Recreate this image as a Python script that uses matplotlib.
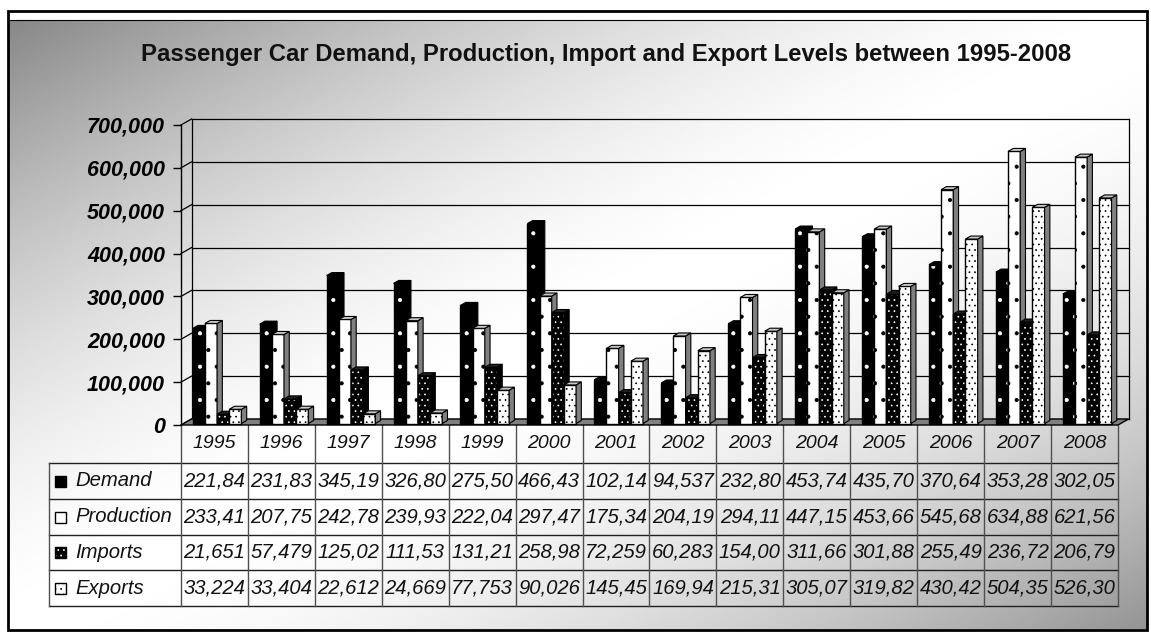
import numpy as np
import matplotlib
matplotlib.use('Agg')
import matplotlib.pyplot as plt
from matplotlib.patches import Polygon, Rectangle
from matplotlib.transforms import IdentityTransform, ScaledTranslation
from matplotlib.ticker import FuncFormatter

# data (table values are truncated to 6 characters there)
years = ['1995', '1996', '1997', '1998', '1999', '2000', '2001',
         '2002', '2003', '2004', '2005', '2006', '2007', '2008']
series_names = ['Demand', 'Production', 'Imports', 'Exports']
demand = [221840, 231830, 345190, 326800, 275500, 466430, 102140,
          94537, 232800, 453740, 435700, 370640, 353280, 302050]
production = [233410, 207750, 242780, 239930, 222040, 297470, 175340,
              204190, 294110, 447150, 453660, 545680, 634880, 621560]
imports = [21651, 57479, 125020, 111530, 131210, 258980, 72259,
           60283, 154000, 311660, 301880, 255490, 236720, 206790]
exports = [33224, 33404, 22612, 24669, 77753, 90026, 145450,
           169940, 215310, 305070, 319820, 430420, 504350, 526300]
y_ticks = [0, 100000, 200000, 300000, 400000, 500000, 600000, 700000]
title = 'Passenger Car Demand, Production, Import and Export Levels between 1995-2008'

# look of each series: face, dot colour, hatch, side face, top face
styles = [
    ('black', 'white', '.', 'black', 'black'),
    ('white', 'black', '.', '#808080', '#c8c8c8'),
    ('black', 'white', '...', 'black', '#202020'),
    ('white', 'black', '...', '#808080', '#c8c8c8'),
]

W, H, DPI = 1151, 634, 100
plt.rcParams['font.family'] = ['Liberation Sans', 'DejaVu Sans']
plt.rcParams['hatch.linewidth'] = 0.5

fig = plt.figure(figsize=(W / DPI, H / DPI), dpi=DPI)
fig.patch.set_facecolor('white')

# background layer in pixel coordinates (y down)
bg = fig.add_axes([0, 0, 1, 1], zorder=0)
gx = np.linspace(0, 1, 500)
gy = np.linspace(0, 1, 300)
t = (gx[None, :] + gy[:, None]) / 2
d = np.abs(2 * t - 1)
shade = np.where(t < 0.5, 1 - 0.47 * d ** 1.6, 1 - 0.42 * d ** 1.8)
bg.imshow(shade, cmap='gray', vmin=0, vmax=1, extent=(9, 1147, 629, 20),
          aspect='auto', interpolation='bilinear')
bg.set_xlim(0, W)
bg.set_ylim(H, 0)
bg.axis('off')
bg.add_patch(Rectangle((8.5, 10.5), 1139, 619.5, fill=False, lw=2, ec='black'))
bg.plot([9, 1147], [20, 20], color='black', lw=0.8)

bg.text(606, 61, title, ha='center', va='baseline', fontsize=17.2,
        fontweight='bold', color='#111111')

# main chart axes (front plane)
ax = fig.add_axes([181 / W, (H - 425) / H, (1118 - 181) / W, 300 / H], zorder=2)
ax.set_xlim(-0.5, len(years) - 0.5)
ax.set_ylim(0, 700000)
ax.set_autoscale_on(False)
ax.patch.set_visible(False)
for s in ['top', 'right', 'bottom']:
    ax.spines[s].set_visible(False)
ax.spines['left'].set_linewidth(1)
ax.set_xticks([])
ax.set_yticks(y_ticks)
ax.yaxis.set_major_formatter(FuncFormatter(lambda v, p: f'{v:,.0f}'))
ax.tick_params(axis='y', direction='out', length=5.8, width=1, pad=5.8, labelsize=15.5)
for lbl in ax.get_yticklabels():
    lbl.set_fontweight('bold')
    lbl.set_fontstyle('italic')

DX, DY = 10.5, 6.0  # depth of the floor / walls in pixels
ident = IdentityTransform()


def px(x, y):
    return np.array(ax.transData.transform((x, y)))


xl, xr = -0.5, len(years) - 0.5
back = np.array([DX, DY])

# floor
floor = [px(xl, 0), px(xr, 0), px(xr, 0) + back, px(xl, 0) + back]
ax.add_patch(Polygon(floor, closed=True, fc='#808080', ec='black', lw=1,
                     transform=ident, clip_on=False, zorder=1))

# back wall and side wall gridlines
for v in y_ticks:
    a = px(xl, v)
    b = px(xr, v)
    ax.plot([a[0] + DX, b[0] + DX], [a[1] + DY, b[1] + DY], color='black',
            lw=0.9, transform=ident, clip_on=False, zorder=0.5)
    ax.plot([a[0], a[0] + DX], [a[1], a[1] + DY], color='black', lw=0.9,
            transform=ident, clip_on=False, zorder=0.5)
for xe in [xl, xr]:
    a = px(xe, 0) + back
    b = px(xe, 700000) + back
    ax.plot([a[0], b[0]], [a[1], b[1]], color='black', lw=0.9,
            transform=ident, clip_on=False, zorder=0.5)

# bars with a little depth
values = [demand, production, imports, exports]
bw = 0.182
fo = np.array([DX * 0.25, DY * 0.25])
bd = np.array([DX * 0.5, DY * 0.5])
shift = ax.transData + ScaledTranslation(fo[0] / DPI, fo[1] / DPI, fig.dpi_scale_trans)
xs = np.arange(len(years))

for i, vals in enumerate(values):
    face, dot, hatch, side_c, top_c = styles[i]
    pos = xs + (i - 1.5) * bw
    z = 3 + i * 0.1
    ax.bar(pos, vals, width=bw, color=face, edgecolor=dot, lw=0, hatch=hatch,
           transform=shift, zorder=z, clip_on=False)
    ax.bar(pos, vals, width=bw, fill=False, edgecolor='black', lw=1,
           transform=shift, zorder=z + 0.01, clip_on=False)
    for x, v in zip(pos, vals):
        r0 = px(x + bw / 2, 0) + fo
        r1 = px(x + bw / 2, v) + fo
        l1 = px(x - bw / 2, v) + fo
        ax.add_patch(Polygon([r0, r1, r1 + bd, r0 + bd], closed=True, fc=side_c,
                             ec='black', lw=0.8, transform=ident, clip_on=False,
                             zorder=z + 0.02))
        ax.add_patch(Polygon([l1, r1, r1 + bd, l1 + bd], closed=True, fc=top_c,
                             ec='black', lw=0.8, transform=ident, clip_on=False,
                             zorder=z + 0.03))

# data table under the chart (pixel coordinates, y down)
col_edges = [px(j - 0.5, 0)[0] for j in range(len(years) + 1)]
top = H - px(0, 0)[1]
row_edges = [top, 463] + [463 + k * 35.75 for k in range(1, 5)]
left = 49
for k in range(1, len(row_edges)):
    bg.plot([left, col_edges[-1]], [row_edges[k], row_edges[k]], color='#202020', lw=1)
for xe in col_edges:
    bg.plot([xe, xe], [top, row_edges[-1]], color='#505050', lw=1)
bg.plot([left, left], [row_edges[1], row_edges[-1]], color='#505050', lw=1)

tfs = 14.6
for j, yr in enumerate(years):
    cx = (col_edges[j] + col_edges[j + 1]) / 2
    bg.text(cx, (row_edges[0] + row_edges[1]) / 2, yr, ha='center', va='center',
            fontsize=14, style='italic', color='#111111')
    for i, vals in enumerate(values):
        cy = (row_edges[i + 1] + row_edges[i + 2]) / 2
        bg.text(cx, cy, f'{vals[j]:,}'[:6], ha='center', va='center',
                fontsize=tfs, style='italic', color='#111111')

for i, name in enumerate(series_names):
    face, dot, hatch, side_c, top_c = styles[i]
    cy = (row_edges[i + 1] + row_edges[i + 2]) / 2
    bg.add_patch(Rectangle((55, cy - 5), 11, 11, fc=face, ec=dot, lw=0,
                           hatch=hatch if i >= 2 else None, zorder=3))
    bg.add_patch(Rectangle((55, cy - 5), 11, 11, fill=False, ec='black', lw=1, zorder=3.1))
    bg.text(75, cy, name, ha='left', va='center', fontsize=tfs, style='italic',
            color='#111111')

fig.savefig('out.png', dpi=DPI)
